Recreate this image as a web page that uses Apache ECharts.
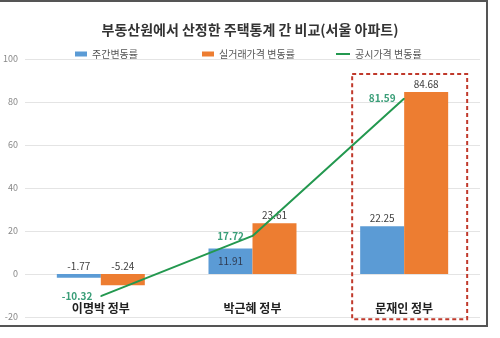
<!DOCTYPE html>
<html><head><meta charset="utf-8">
<script src="https://cdn.jsdelivr.net/npm/echarts@6/dist/echarts.min.js"></script>
<style>html,body{margin:0;padding:0;background:#fff}#c{width:500px;height:338px}</style>
</head><body><div id="c"></div>
<script>
const categories = ['이명박 정부', '박근혜 정부', '문재인 정부'];
const weeklyRate = [-1.77, 11.91, 22.25];
const tradeRate = [-5.24, 23.61, 84.68];
const officialRate = [-10.32, 17.72, 81.59];
const seriesNames = ['주간변동률', '실거래가격 변동률', '공시가격 변동률'];
const yTicks = { min: -20, max: 100, interval: 20 };
const title = '부동산원에서 산정한 주택통계 간 비교(서울 아파트)';

const FONT = '"Noto Sans CJK KR", "Noto Sans", sans-serif';
const chart = echarts.init(document.getElementById('c'));
const legendText = { fontSize: 10, color: '#555', fontFamily: FONT };
const option = {
  animation: false,
  textStyle: { fontFamily: FONT },
  title: { text: title, left: 'center', top: 18, textStyle: { fontSize: 14, fontWeight: 'bold', color: '#333', fontFamily: FONT } },
  legend: [
    { data: [seriesNames[0]], left: 70, top: 44, itemWidth: 12, itemHeight: 5, icon: 'rect', textStyle: legendText },
    { data: [seriesNames[1]], left: 197, top: 44, itemWidth: 12, itemHeight: 5, icon: 'rect', textStyle: legendText },
    { data: [seriesNames[2]], left: 331, top: 44, itemWidth: 14, itemHeight: 2, icon: 'rect', textStyle: legendText }
  ],
  grid: { left: 23, right: 20, top: 59, bottom: 21 },
  xAxis: {
    type: 'category', data: categories, position: 'bottom',
    axisLine: { show: false }, axisTick: { show: false },
    axisLabel: { margin: -15, fontSize: 12, fontWeight: 'bold', color: '#222', fontFamily: FONT }
  },
  yAxis: {
    type: 'value', min: yTicks.min, max: yTicks.max, interval: yTicks.interval,
    axisLine: { show: false }, axisTick: { show: false },
    axisLabel: { margin: 7, fontSize: 9, color: '#888', fontFamily: FONT },
    splitLine: { lineStyle: { color: '#e4e4e4', width: 1 } }
  },
  series: [
    { name: seriesNames[0], type: 'bar', data: weeklyRate.map((v, i) => i === 1 ? { value: v, label: { position: 'inside', color: '#2f3b52' } } : v),
      barWidth: 44, barGap: '0%', itemStyle: { color: '#5b9bd5' },
      label: { show: true, position: 'top', distance: 3, fontSize: 10, color: '#404040', fontFamily: FONT } },
    { name: seriesNames[1], type: 'bar', data: tradeRate, barWidth: 44, barGap: '0%', itemStyle: { color: '#ed7d31' },
      label: { show: true, position: 'top', distance: 3, fontSize: 10, color: '#404040', fontFamily: FONT } },
    { name: seriesNames[2], type: 'line', data: officialRate, smooth: false, symbol: 'circle', symbolSize: 1,
      itemStyle: { color: '#23984f' }, lineStyle: { color: '#23984f', width: 2 }, z: 5,
      label: { show: true, position: 'left', distance: 8, fontSize: 10, fontWeight: 'bold', color: '#3a9e78', fontFamily: FONT } }
  ]
};
chart.setOption(option);
// annotation box around last category and outer frame
const c = chart.convertToPixel({ xAxisIndex: 0, yAxisIndex: 0 }, [2, 93]);
const b = chart.convertToPixel({ xAxisIndex: 0, yAxisIndex: 0 }, [2, -21]);
chart.setOption({
  graphic: [
    { type: 'rect', shape: { x: c[0] - 52, y: c[1], width: 115, height: b[1] - c[1] }, silent: true,
      style: { fill: 'none', stroke: '#c0392b', lineWidth: 2, lineDash: [4, 3] }, z: 10 },
    { type: 'rect', shape: { x: -3, y: 1, width: 490, height: 325 }, silent: true,
      style: { fill: 'none', stroke: '#555', lineWidth: 2 }, z: 10 }
  ]
});
</script></body></html>
